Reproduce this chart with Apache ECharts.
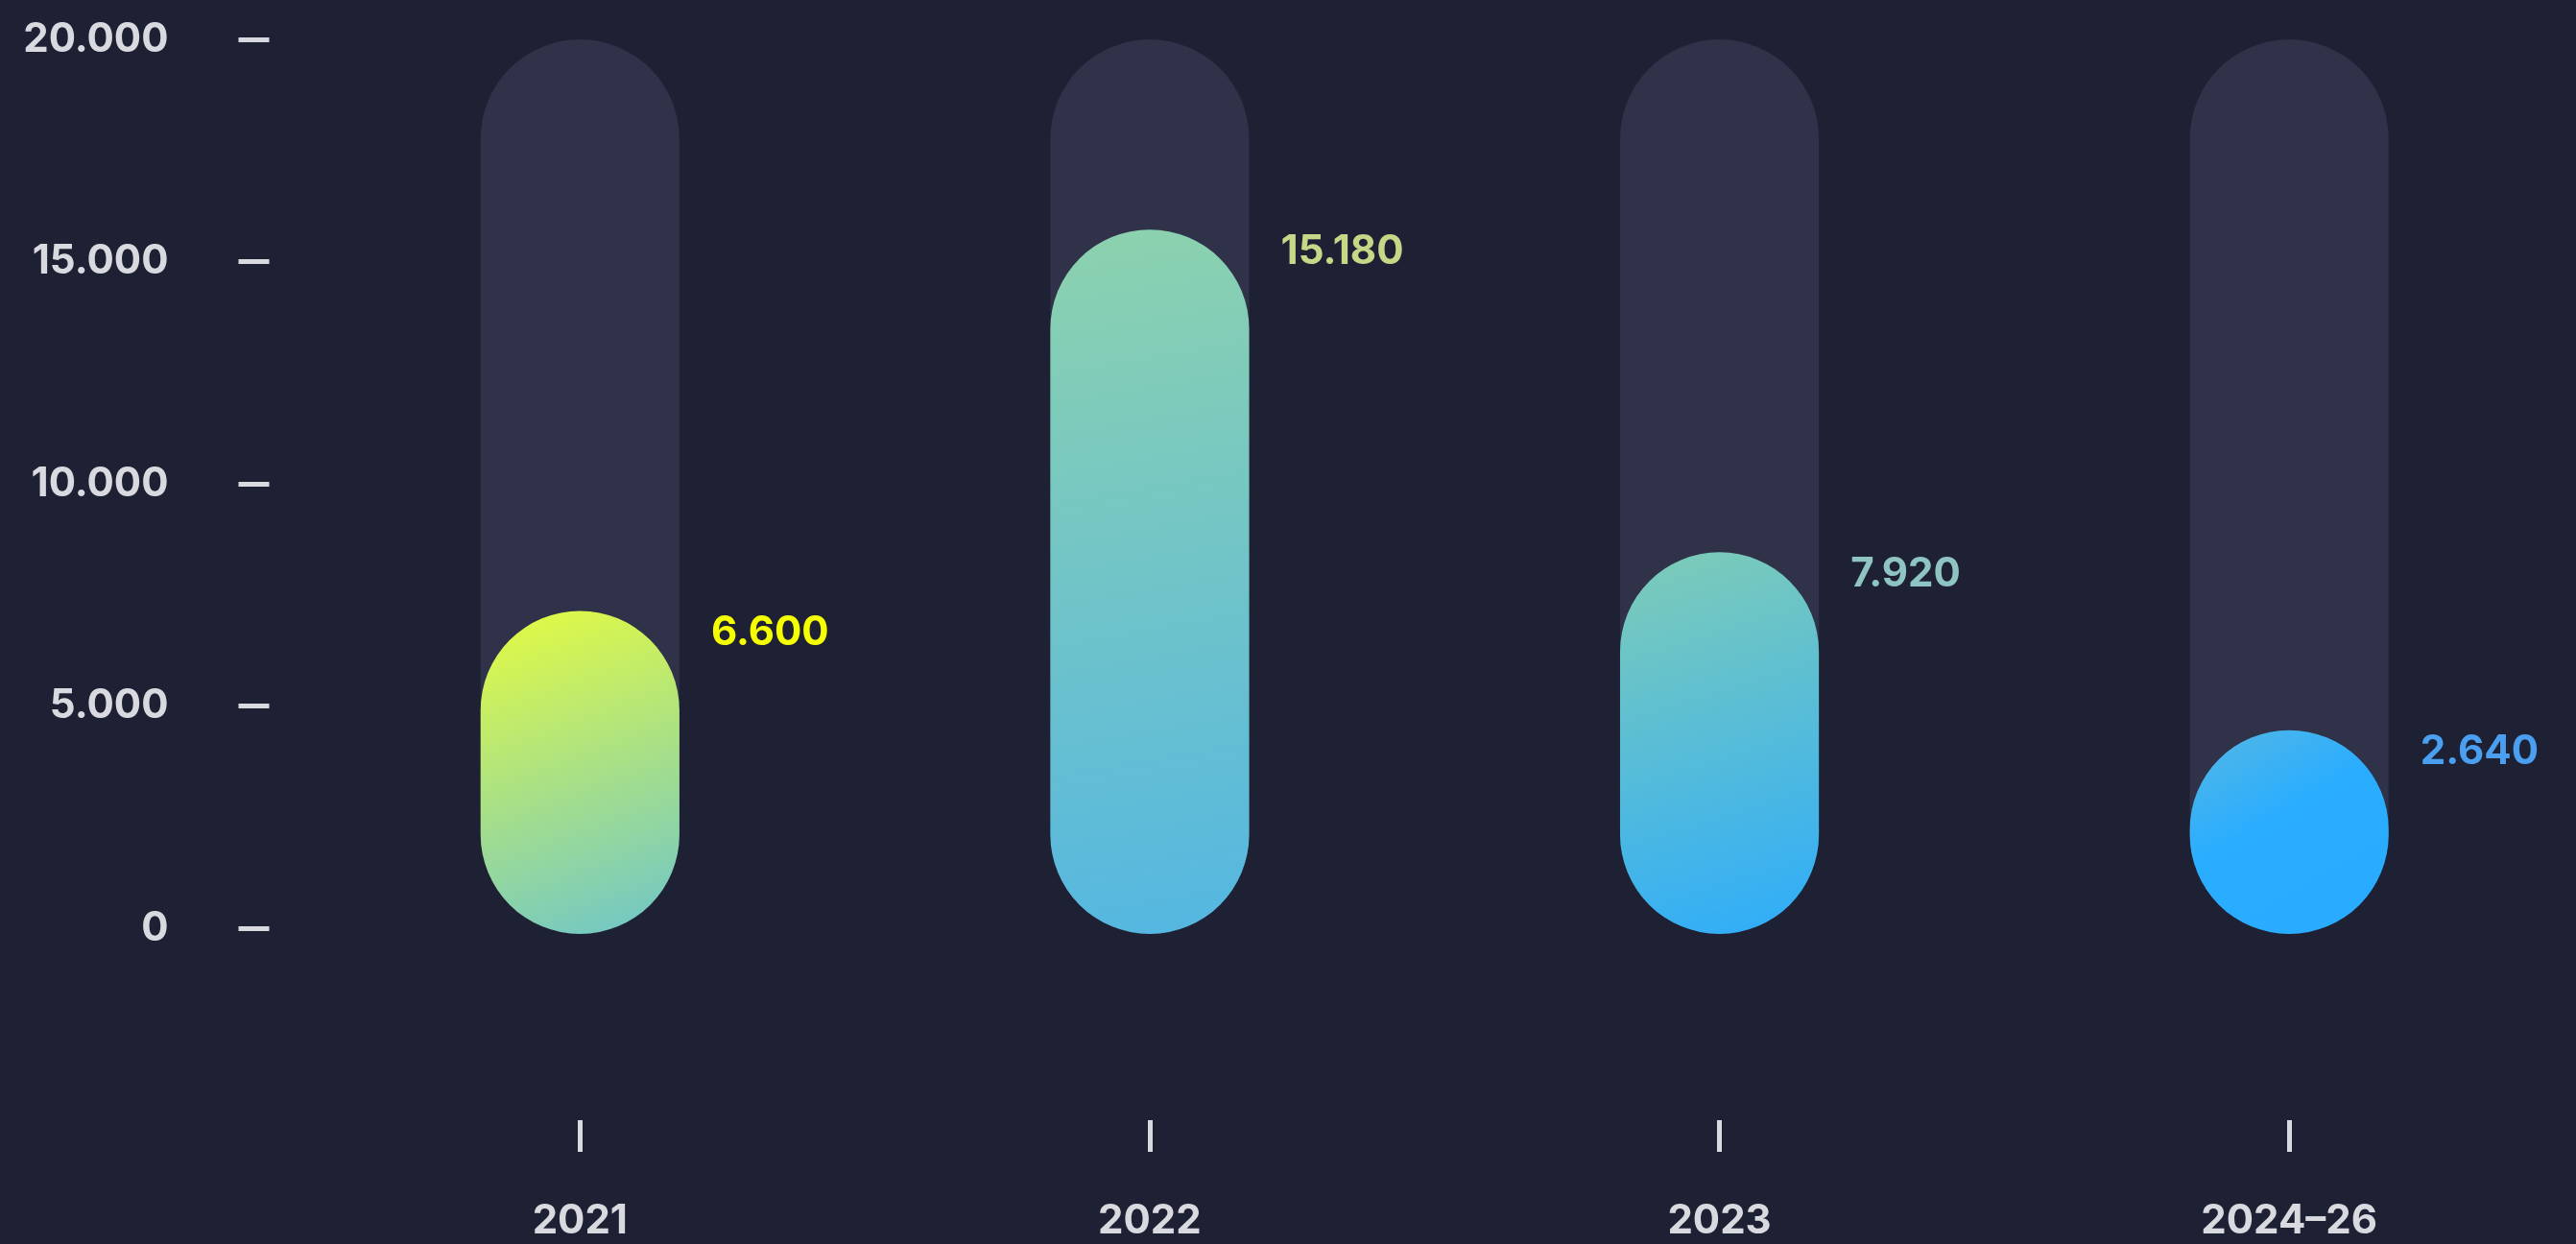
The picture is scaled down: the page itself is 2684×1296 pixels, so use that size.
<!DOCTYPE html>
<html>
<head>
<meta charset="utf-8">
<style>
  html, body { margin: 0; padding: 0; background: #1e2033; }
  #chart { width: 2684px; height: 1296px; }
</style>
<script src="https://cdn.jsdelivr.net/npm/echarts@6/dist/echarts.min.js"></script>
</head>
<body>
<div id="chart"></div>
<script>
var categories = ['2021', '2022', '2023', '2024–26'];
var values = [6600, 15180, 7920, 2640];
var yTicks = [0, 5000, 10000, 15000, 20000];
var labelColors = ['#f6ff00', '#c6d788', '#8ec4c2', '#4a9ff0'];
var barGradients = [
  [['0', '#e6fc3f'], ['1', '#76c9c1']],
  [['0', '#8dd2ae'], ['1', '#55b7e1']],
  [['0', '#7fccb6'], ['1', '#32aef7']],
  [['0', '#56b8e2'], ['0.5', '#2aadff'], ['1', '#29acff']]
];

var Y_MIN = yTicks[0], Y_MAX = yTicks[yTicks.length - 1], Y_STEP = yTicks[1] - yTicks[0];
var FONT = 'Inter, "Noto Sans", sans-serif';
var FS = 42;
var TXT = '#d9dae0';

function fmt(v) {
  return String(Math.round(v)).replace(/\B(?=(\d{3})+(?!\d))/g, '.');
}

var chart = echarts.init(document.getElementById('chart'), null, { renderer: 'canvas' });

var option = {
  backgroundColor: '#1e2033',
  animation: false,
  grid: [
    { left: 307.5, right: 2, top: 41, bottom: 329, containLabel: false },
    { left: 307.5, right: 2, top: 1166, height: 1, containLabel: false }
  ],
  xAxis: [{
    type: 'category',
    gridIndex: 0,
    data: categories,
    axisLine: { show: false },
    axisTick: { show: false },
    axisLabel: { show: false },
    splitLine: { show: false }
  }, {
    type: 'category',
    gridIndex: 1,
    data: categories,
    position: 'bottom',
    axisLine: { show: false },
    axisTick: { show: true, alignWithLabel: true, length: 33, lineStyle: { color: TXT, width: 5 } },
    axisLabel: {
      margin: 105, color: TXT, fontSize: FS, fontWeight: 700, fontFamily: FONT,
      verticalAlign: 'middle'
    },
    splitLine: { show: false }
  }],
  yAxis: [{
    type: 'value',
    gridIndex: 0,
    min: Y_MIN, max: Y_MAX, interval: Y_STEP,
    offset: 27,
    axisLine: { show: false },
    axisTick: { show: true, length: 32, lineStyle: { color: TXT, width: 5 } },
    axisLabel: {
      margin: 105, color: TXT, fontSize: FS, fontWeight: 700, fontFamily: FONT,
      formatter: function (v) { return fmt(v); }
    },
    splitLine: { show: false }
  }, {
    type: 'value',
    gridIndex: 1,
    show: false
  }],
  series: [{
    type: 'custom',
    xAxisIndex: 0,
    yAxisIndex: 0,
    clip: false,
    data: values.map(function (v, i) { return [i, v]; }),
    renderItem: function (params, api) {
      var i = api.value(0), v = api.value(1);
      var base = api.coord([i, 0]);
      var topPt = api.coord([i, v]);
      var maxPt = api.coord([i, Y_MAX]);
      var band = api.size([1, 0])[0];
      var w = band * 0.349;
      var x = base[0] - w / 2;
      var bottom = base[1] + 6;
      var top = Math.min(topPt[1] - 25, bottom - w * 1.025);
      var r = w / 2;
      var stops = barGradients[i].map(function (s) { return { offset: +s[0], color: s[1] }; });
      return {
        type: 'group',
        children: [
          { type: 'rect', shape: { x: x, y: maxPt[1], width: w, height: bottom - maxPt[1], r: r },
            style: { fill: '#2f3248' } },
          { type: 'rect', shape: { x: x, y: top, width: w, height: bottom - top, r: r },
            style: { fill: new echarts.graphic.LinearGradient(0, 0, 0.6, 1, stops) } },
          { type: 'text', x: x + w + 33, y: top + 23,
            style: { text: fmt(v), fill: labelColors[i], fontSize: FS, fontWeight: 700, fontFamily: FONT,
                     align: 'left', verticalAlign: 'middle' } }
        ]
      };
    }
  }]
};
chart.setOption(option);
</script>
</body>
</html>
